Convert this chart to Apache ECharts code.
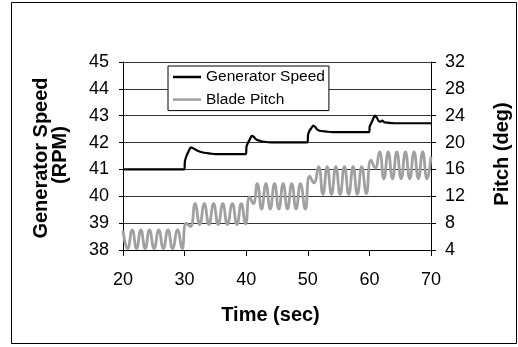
<!DOCTYPE html>
<html>
<head>
<meta charset="utf-8">
<script src="https://cdn.jsdelivr.net/npm/echarts@6/dist/echarts.min.js"></script>
<style>
html,body{margin:0;padding:0;background:#fff;}
#chart{width:518px;height:347px;}
</style>
</head>
<body>
<div id="chart"></div>
<script>
// ---- Data ----
const seriesNames = ['Generator Speed', 'Blade Pitch'];

const speedTime = [20, 29.95, 30.05, 30.3, 30.6, 31.0, 31.3, 31.8, 32.4, 33.2, 34.2, 35,
  39.95, 40.05, 40.3, 40.6, 40.9, 41.2, 41.6, 42.2, 43, 44,
  49.95, 50.05, 50.3, 50.6, 50.9, 51.2, 51.6, 52.2, 53, 54,
  59.95, 60.05, 60.3, 60.6, 60.9, 61.2, 61.5, 61.8, 62.1, 62.4, 63, 64, 70];
const speedRPM = [41.0, 41.0, 41.3, 41.5, 41.65, 41.82, 41.8, 41.73, 41.67, 41.62, 41.59, 41.57,
  41.57, 41.85, 42.0, 42.12, 42.25, 42.22, 42.12, 42.07, 42.03, 42.01,
  42.01, 42.3, 42.45, 42.55, 42.63, 42.58, 42.47, 42.43, 42.41, 42.39,
  42.39, 42.6, 42.72, 42.88, 43.0, 42.93, 42.8, 42.78, 42.82, 42.76, 42.74, 42.72, 42.72];

const pitchTime = [20.0, 20.75, 21.5, 22.2, 22.9, 23.6, 24.3, 25.05, 25.8, 26.55, 27.3, 28.05, 28.85, 29.6,
  30.25, 30.95, 31.7, 32.45, 33.2, 33.95, 34.7, 35.45, 36.2, 36.95, 37.75, 38.5, 39.2, 39.9,
  40.55, 41.15, 41.8, 42.5, 43.2, 43.9, 44.6, 45.3, 46.0, 46.7, 47.4, 48.1, 48.8, 49.6,
  50.3, 51.0, 51.75, 52.45, 53.15, 53.85, 54.55, 55.25, 55.95, 56.65, 57.35, 58.05, 58.75, 59.5,
  60.25, 60.95, 61.65, 62.35, 63.05, 63.75, 64.45, 65.15, 65.85, 66.55, 67.25, 67.95, 68.65, 69.35, 70.0];
const pitchDeg = [6.9, 4.2, 7.0, 4.2, 7.0, 4.2, 7.0, 4.2, 7.0, 4.2, 7.0, 4.2, 7.0, 4.2,
  8.0, 7.5, 10.9, 7.8, 10.9, 7.8, 10.9, 7.8, 10.9, 7.8, 10.9, 7.8, 10.9, 7.9,
  11.9, 10.9, 13.9, 10.1, 13.9, 10.1, 13.9, 10.1, 13.9, 10.1, 13.9, 10.1, 13.9, 10.1,
  15.0, 14.0, 16.4, 12.3, 16.4, 12.3, 16.4, 12.3, 16.4, 12.3, 16.4, 12.3, 16.4, 12.4,
  17.4, 16.2, 18.6, 14.6, 18.6, 14.6, 18.6, 14.6, 18.6, 14.6, 18.6, 14.6, 18.6, 14.6, 17.9];

const xRange = [20, 70, 10];
const speedRange = [38, 45, 1];
const pitchRange = [4, 32, 4];

// ---- Chart ----
const chart = echarts.init(document.getElementById('chart'), null, {renderer: 'canvas'});
const FONT = 'Liberation Sans, Arial, sans-serif';
const labelStyle = {color: '#000', fontSize: 18, fontFamily: FONT};
const colors = ['#000', '#a0a0a0'];

chart.setOption({
  animation: false,
  backgroundColor: '#fff',
  grid: {left: 123, right: 87, top: 62, bottom: 97, containLabel: false},
  legend: {
    orient: 'vertical',
    left: 168, top: 66,
    padding: [3, 4, 3, 5],
    icon: 'rect',
    itemWidth: 28, itemHeight: 2.5, itemGap: 6.6,
    backgroundColor: '#fff',
    borderColor: '#000', borderWidth: 1, borderRadius: 0,
    textStyle: {color: '#000', fontSize: 15.5, fontFamily: FONT, lineHeight: 16},
    data: seriesNames
  },
  xAxis: {
    type: 'value', min: xRange[0], max: xRange[1], interval: xRange[2],
    axisLine: {show: true, lineStyle: {color: '#000', width: 1}},
    axisTick: {show: true, inside: false, length: 6, lineStyle: {color: '#000'}},
    axisLabel: Object.assign({margin: 21}, labelStyle),
    splitLine: {show: false}
  },
  yAxis: [{
    type: 'value', min: speedRange[0], max: speedRange[1], interval: speedRange[2],
    position: 'left',
    axisLine: {show: true, lineStyle: {color: '#000', width: 1}},
    axisTick: {show: true, inside: false, length: 4, lineStyle: {color: '#000'}},
    axisLabel: Object.assign({margin: 14}, labelStyle),
    splitLine: {show: true, lineStyle: {color: '#333', width: 1}}
  }, {
    type: 'value', min: pitchRange[0], max: pitchRange[1], interval: pitchRange[2],
    position: 'right',
    axisLine: {show: true, lineStyle: {color: '#000', width: 1}},
    axisTick: {show: true, inside: false, length: 5, lineStyle: {color: '#000'}},
    axisLabel: Object.assign({margin: 14}, labelStyle),
    splitLine: {show: false}
  }],
  series: [{
    name: seriesNames[0],
    type: 'line',
    yAxisIndex: 0,
    data: speedTime.map((t, i) => [t, speedRPM[i]]),
    symbol: 'none', showSymbol: false,
    smooth: 0.3,
    lineStyle: {color: colors[0], width: 2.2},
    itemStyle: {color: colors[0]},
    z: 3
  }, {
    name: seriesNames[1],
    type: 'line',
    yAxisIndex: 1,
    data: pitchTime.map((t, i) => [t, pitchDeg[i]]),
    symbol: 'none', showSymbol: false,
    smooth: 0.5,
    lineStyle: {color: colors[1], width: 2.8},
    itemStyle: {color: colors[1]},
    z: 2
  }],
  graphic: [{
    type: 'rect', silent: true,
    shape: {x: 11.5, y: 2.5, width: 505, height: 341},
    style: {fill: 'none', stroke: '#000', lineWidth: 1}
  }, {
    type: 'text', x: 41.5, y: 158, rotation: Math.PI / 2,
    style: {text: 'Generator Speed', font: 'bold 20px ' + FONT, fill: '#000', textAlign: 'center', textVerticalAlign: 'middle'}
  }, {
    type: 'text', x: 60, y: 155, rotation: Math.PI / 2,
    style: {text: '(RPM)', font: 'bold 20px ' + FONT, fill: '#000', textAlign: 'center', textVerticalAlign: 'middle'}
  }, {
    type: 'text', x: 502, y: 154, rotation: Math.PI / 2,
    style: {text: 'Pitch (deg)', font: 'bold 20px ' + FONT, fill: '#000', textAlign: 'center', textVerticalAlign: 'middle'}
  }, {
    type: 'text', x: 270.5, y: 315.7,
    style: {text: 'Time (sec)', font: 'bold 20px ' + FONT, fill: '#000', textAlign: 'center', textVerticalAlign: 'middle'}
  }]
});
</script>
</body>
</html>
